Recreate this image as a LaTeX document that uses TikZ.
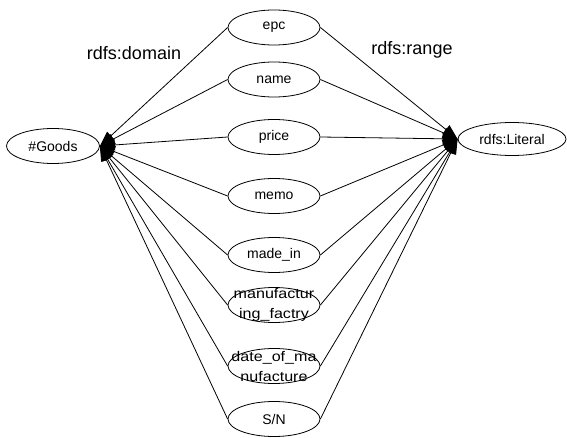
\documentclass[tikz,border=0pt]{standalone}
\usepackage{fontspec}
\setmainfont{Liberation Sans}
\newfontfamily\widesans[FakeStretch=1.15]{Liberation Sans}
\usetikzlibrary{shapes.geometric,arrows.meta}

\tikzset{
  oval/.style={ellipse, draw, line width=0.8pt, minimum width=92pt, minimum height=35pt, inner sep=0pt},
  txt/.style={font=\fontsize{14}{20}\selectfont, align=center, inner sep=0pt},
  widetxt/.style={txt, font=\widesans\fontsize{14}{20}\selectfont},
  rel/.style={font=\fontsize{18}{22}\selectfont, inner sep=0pt},
  link/.style={line width=0.8pt, -{Triangle[length=15pt,width=11pt]}}
}

\begin{document}
\begin{tikzpicture}[x=1pt,y=-1pt]
\useasboundingbox (0,0) rectangle (567,438);

% class and literal
\node[oval, minimum width=93pt] (goods) at (53,146) {};
\node[txt] (goodst) at (goods) {\#Goods};
\node[oval, minimum width=108pt, minimum height=33pt] (lit) at (512,139) {};
\node[txt] (litt) at (lit) {rdfs:Literal};

% properties
\node[oval] (epc)   at (274,27.5) {};
\node[oval] (name)  at (274,79.5) {};
\node[oval] (price) at (274,137)  {};
\node[oval] (memo)  at (274,196)  {};
\node[oval] (made)  at (274,255)  {};
\node[oval] (mf)    at (274,305)  {};
\node[oval] (date)  at (274,366)  {};
\node[oval] (sn)    at (274,419)  {};

\node[txt] (epct)   at (epc)   {epc};
\node[txt] (namet)  at (name)  {name};
\node[txt] (pricet) at (price) {price};
\node[txt] (memot)  at (memo)  {memo};
\node[txt] (madet)  at (made)  {made\_in};
\node[widetxt] (mft)   at (mf)   {manufactur\\ing\_factry};
\node[widetxt] (datet) at (date) {date\_of\_ma\\nufacture};
\node[txt] (snt)    at (sn)    {S/N};

% domain and range edges
\foreach \p in {epc,name,price,memo,made,mf,date,sn}{
  \draw[link] (\p.west) -- (goods.east);
  \draw[link] (\p.east) -- (lit.west);
}

\node[rel] (dom) at (134,53) {rdfs:domain};
\node[rel] (rng) at (412,50) {rdfs:range};
\end{tikzpicture}
\end{document}
